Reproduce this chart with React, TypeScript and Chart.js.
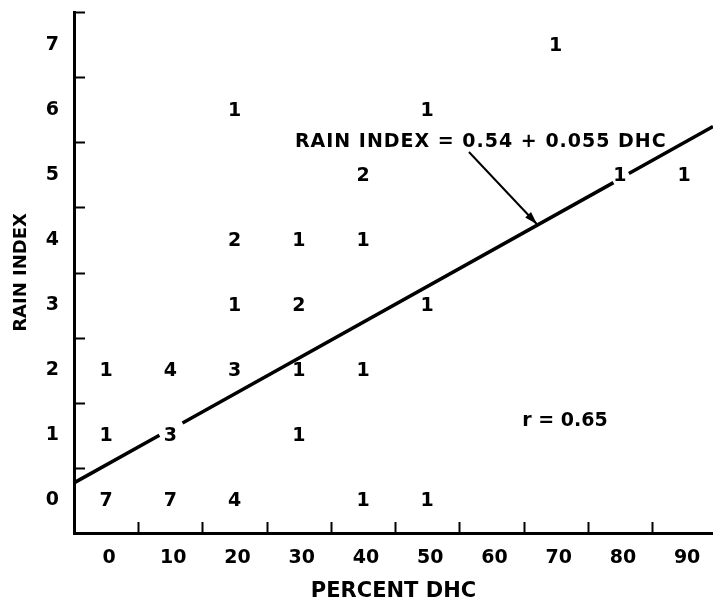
import { useEffect, useRef } from "react";
import { Chart, registerables } from "chart.js";

Chart.register(...registerables);

// Plotted count labels (number of cases at each DHC / rain-index position)
const pointX = [0, 10, 20, 40, 50, 0, 10, 30, 0, 10, 20, 30, 40, 20, 30, 50, 20, 30, 40, 40, 80, 90, 20, 50, 70];
const pointY = [0, 0, 0, 0, 0, 1, 1, 1, 2, 2, 2, 2, 2, 3, 3, 3, 4, 4, 4, 5, 5, 5, 6, 6, 7];
const pointCounts = [7, 7, 4, 1, 1, 1, 3, 1, 1, 4, 3, 1, 1, 1, 2, 1, 2, 1, 1, 2, 1, 1, 1, 1, 1];

// Axis tick labels and minor tick marks
const xTickValues = [0, 10, 20, 30, 40, 50, 60, 70, 80, 90];
const yTickValues = [0, 1, 2, 3, 4, 5, 6, 7];
const xMinorTicks = [5, 15, 25, 35, 45, 55, 65, 75, 85];
const yMinorTicks = [0.5, 1.5, 2.5, 3.5, 4.5, 5.5, 6.5, 7.5];

// Regression line (broken where it meets the labels)
const fitX = [-5, 8.3, 10, 11.9, 79.0, 80.2, 81.4, 94.5];
const fitY = [0.27, 1.0, null, 1.19, 4.88, null, 5.02, 5.74];

// Leader arrow from the equation to the line
const arrowX = [56.5, 67.1];
const arrowY = [5.35, 4.24];

const equationText = "RAIN INDEX = 0.54 + 0.055 DHC";
const rText = "r = 0.65";

const FONT = '"DejaVu Sans", "Liberation Sans", sans-serif';

const figurePlugin = {
  id: "figureExtras",
  afterDatasetsDraw(chart: any) {
    const ctx = chart.ctx as CanvasRenderingContext2D;
    const xs = chart.scales.x;
    const ys = chart.scales.y;
    ctx.save();

    // inward minor tick marks
    ctx.strokeStyle = "#000";
    ctx.lineWidth = 2;
    ctx.beginPath();
    xMinorTicks.forEach((v) => {
      const px = Math.round(xs.getPixelForValue(v)) + 0.5;
      ctx.moveTo(px, ys.bottom);
      ctx.lineTo(px, ys.bottom - 11);
    });
    yMinorTicks.forEach((v) => {
      const py = Math.round(ys.getPixelForValue(v)) + 0.5;
      ctx.moveTo(xs.left, py);
      ctx.lineTo(xs.left + 11, py);
    });
    ctx.stroke();

    // arrowhead
    const am = chart.getDatasetMeta(2);
    if (am && am.data.length === 2) {
      const p0 = am.data[0];
      const p1 = am.data[1];
      const ang = Math.atan2(p1.y - p0.y, p1.x - p0.x);
      const len = 13;
      const half = 4;
      const c = Math.cos(ang);
      const s = Math.sin(ang);
      ctx.fillStyle = "#000";
      ctx.beginPath();
      ctx.moveTo(p1.x, p1.y);
      ctx.lineTo(p1.x - len * c + half * s, p1.y - len * s - half * c);
      ctx.lineTo(p1.x - len * c - half * s, p1.y - len * s + half * c);
      ctx.closePath();
      ctx.fill();
    }

    // count labels at data positions
    ctx.fillStyle = "#000";
    ctx.font = `bold 19px ${FONT}`;
    ctx.textAlign = "center";
    ctx.textBaseline = "middle";
    const meta = chart.getDatasetMeta(0);
    meta.data.forEach((el: any, i: number) => {
      ctx.fillText(String(pointCounts[i]), el.x, el.y + 1);
    });

    // annotations
    ctx.textAlign = "left";
    (ctx as any).letterSpacing = "1px";
    ctx.fillText(equationText, xs.getPixelForValue(29.4), ys.getPixelForValue(5.5));
    (ctx as any).letterSpacing = "0px";
    ctx.fillText(rText, xs.getPixelForValue(64.8), ys.getPixelForValue(1.22));

    ctx.restore();
  },
};

export default function App() {
  const canvasRef = useRef<HTMLCanvasElement | null>(null);

  useEffect(() => {
    const canvas = canvasRef.current;
    if (!canvas) return;

    const chart = new Chart(canvas, {
      type: "scatter",
      data: {
        datasets: [
          {
            label: "counts",
            data: pointX.map((x, i) => ({ x, y: pointY[i] })),
            pointRadius: 0,
            pointHoverRadius: 0,
            showLine: false,
          },
          {
            label: "fit",
            data: fitX.map((x, i) => ({ x, y: fitY[i] })) as any,
            showLine: true,
            spanGaps: false,
            pointRadius: 0,
            pointHoverRadius: 0,
            borderColor: "#000",
            borderWidth: 3.5,
            borderCapStyle: "butt",
            tension: 0,
            fill: false,
          },
          {
            label: "arrow",
            data: arrowX.map((x, i) => ({ x, y: arrowY[i] })),
            showLine: true,
            pointRadius: 0,
            pointHoverRadius: 0,
            borderColor: "#000",
            borderWidth: 2,
            tension: 0,
            fill: false,
          },
        ],
      },
      options: {
        responsive: false,
        animation: false,
        events: [],
        layout: { padding: { top: 12, left: 0, right: 0, bottom: 0 } },
        plugins: {
          legend: { display: false },
          tooltip: { enabled: false },
          title: { display: false },
        },
        scales: {
          x: {
            type: "linear",
            position: "bottom",
            min: -5,
            max: 94.5,
            afterBuildTicks: (scale: any) => {
              scale.ticks = xTickValues.map((v) => ({ value: v }));
            },
            afterFit: (scale: any) => {
              scale.height = 72;
              scale.paddingLeft = 0;
              scale.paddingRight = 0;
            },
            grid: { display: false, drawTicks: false },
            border: { display: true, color: "#000", width: 3 },
            ticks: {
              color: "#000",
              font: { family: FONT, size: 19, weight: "bold" },
              padding: 14,
              labelOffset: 3,
              maxRotation: 0,
              autoSkip: false,
              callback: (v: any) => String(v),
            },
            title: {
              display: true,
              text: "PERCENT DHC",
              color: "#000",
              font: { family: FONT, size: 21, weight: "bold" },
              padding: { top: 0, bottom: 1 },
            },
          },
          y: {
            type: "linear",
            position: "left",
            min: -0.5,
            max: 7.5,
            afterBuildTicks: (scale: any) => {
              scale.ticks = yTickValues.map((v) => ({ value: v }));
            },
            afterFit: (scale: any) => {
              scale.width = 74;
              scale.paddingTop = 0;
              scale.paddingBottom = 0;
            },
            grid: { display: false, drawTicks: false },
            border: { display: true, color: "#000", width: 3 },
            ticks: {
              color: "#000",
              font: { family: FONT, size: 19, weight: "bold" },
              padding: 15,
              crossAlign: "center",
              autoSkip: false,
              callback: (v: any) => String(v),
            },
            title: {
              display: true,
              text: "RAIN INDEX",
              color: "#000",
              font: { family: FONT, size: 18, weight: "bold" },
              padding: { top: 11, bottom: 0 },
            },
          },
        },
      },
      plugins: [figurePlugin],
    } as any);

    return () => {
      chart.destroy();
    };
  }, []);

  return (
    <div
      style={{
        position: "absolute",
        left: 0,
        top: 0,
        width: 713,
        height: 605,
        background: "#fff",
      }}
    >
      <canvas
        ref={canvasRef}
        width={713}
        height={605}
        style={{ width: 713, height: 605, display: "block" }}
      />
    </div>
  );
}
